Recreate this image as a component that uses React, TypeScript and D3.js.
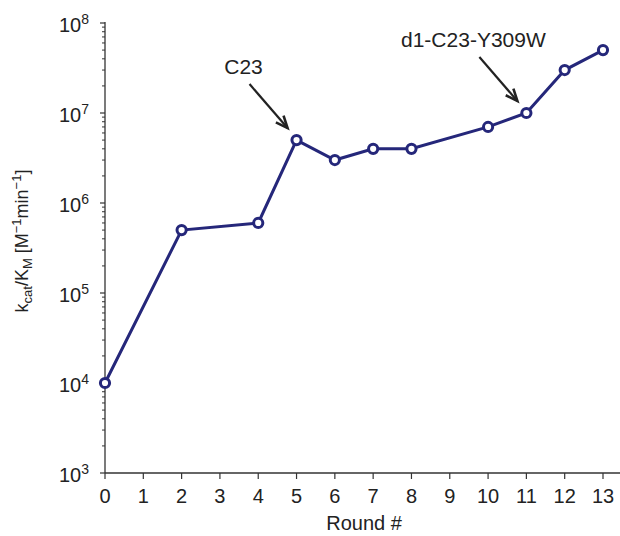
import React, { useEffect, useRef } from 'react';
import * as d3 from 'd3';

// rounds and their kcat/KM values
const rounds = [0, 2, 4, 5, 6, 7, 8, 10, 11, 12, 13];
const kcatKm = [1e4, 5e5, 6e5, 5e6, 3e6, 4e6, 4e6, 7e6, 1e7, 3e7, 5e7];
const xTicks = [0, 1, 2, 3, 4, 5, 6, 7, 8, 9, 10, 11, 12, 13];
const yExponents = [3, 4, 5, 6, 7, 8];

const annotations = [
  { label: 'C23', round: 5, value: 5e6 },
  { label: 'd1-C23-Y309W', round: 11, value: 1e7 },
];

const App = () => {
  const ref = useRef<SVGSVGElement | null>(null);

  useEffect(() => {
    const width = 620;
    const height = 536;
    const margin = { top: 23, right: 0, bottom: 63, left: 105 };
    const lineColor = '#25277a';
    const font = '"Liberation Sans", Arial, sans-serif';

    const svg = d3.select(ref.current);
    svg.selectAll('*').remove();

    const x = d3.scaleLinear().domain([0, 13]).range([margin.left, 603]);
    const y = d3.scaleLog().domain([1e3, 1e8]).range([height - margin.bottom, margin.top]);
    const x0 = margin.left;
    const yBase = height - margin.bottom;

    // axes lines
    svg.append('line')
      .attr('x1', x0).attr('x2', width)
      .attr('y1', yBase).attr('y2', yBase)
      .attr('stroke', '#333').attr('stroke-width', 1.3);
    svg.append('line')
      .attr('x1', x0).attr('x2', x0)
      .attr('y1', yBase).attr('y2', margin.top - 1)
      .attr('stroke', '#333').attr('stroke-width', 1.3);

    // x ticks
    const xt = svg.append('g');
    xTicks.forEach(t => {
      xt.append('line')
        .attr('x1', x(t)).attr('x2', x(t))
        .attr('y1', yBase).attr('y2', yBase + 6)
        .attr('stroke', '#333').attr('stroke-width', 1.2);
      xt.append('text')
        .attr('x', x(t)).attr('y', 503)
        .attr('text-anchor', 'middle')
        .attr('font-family', font).attr('font-size', 20).attr('fill', '#222')
        .text(String(t));
    });

    // y ticks, major and minor
    const yt = svg.append('g');
    yExponents.forEach((e, i) => {
      const v = Math.pow(10, e);
      yt.append('line')
        .attr('x1', x0 - 5).attr('x2', x0)
        .attr('y1', y(v)).attr('y2', y(v))
        .attr('stroke', '#333').attr('stroke-width', 1.2);
      const label = yt.append('text')
        .attr('x', x0 - 16).attr('y', y(v) + 9)
        .attr('text-anchor', 'end')
        .attr('font-family', font).attr('font-size', 20).attr('fill', '#222');
      label.append('tspan').text('10');
      label.append('tspan')
        .attr('dy', -8).attr('font-size', 14).text(String(e));
      if (i < yExponents.length - 1) {
        for (let m = 2; m <= 9; m++) {
          yt.append('line')
            .attr('x1', x0 - 3).attr('x2', x0)
            .attr('y1', y(v * m)).attr('y2', y(v * m))
            .attr('stroke', '#333').attr('stroke-width', 1);
        }
      }
    });

    // axis titles
    svg.append('text')
      .attr('x', 364).attr('y', 530)
      .attr('text-anchor', 'middle')
      .attr('font-family', font).attr('font-size', 20).attr('fill', '#222')
      .text('Round #');

    const yl = svg.append('text')
      .attr('transform', 'translate(28,241) rotate(-90)')
      .attr('text-anchor', 'middle')
      .attr('font-family', font).attr('font-size', 18).attr('fill', '#222');
    yl.append('tspan').text('k');
    yl.append('tspan').attr('dy', 4).attr('font-size', 13).text('cat');
    yl.append('tspan').attr('dy', -4).text('/K');
    yl.append('tspan').attr('dy', 4).attr('font-size', 13).text('M');
    yl.append('tspan').attr('dy', -4).text(' [M');
    yl.append('tspan').attr('dy', -7).attr('font-size', 13).text('\u22121');
    yl.append('tspan').attr('dy', 7).text('min');
    yl.append('tspan').attr('dy', -7).attr('font-size', 13).text('\u22121');
    yl.append('tspan').attr('dy', 7).text(']');

    // data line
    const pts = rounds.map((r, i) => [r, kcatKm[i]] as [number, number]);
    const line = d3.line<[number, number]>().x(d => x(d[0])).y(d => y(d[1]));
    svg.append('path')
      .datum(pts)
      .attr('d', line)
      .attr('fill', 'none')
      .attr('stroke', lineColor)
      .attr('stroke-width', 3);

    svg.selectAll('.pt')
      .data(pts)
      .enter()
      .append('circle')
      .attr('class', 'pt')
      .attr('cx', d => x(d[0]))
      .attr('cy', d => y(d[1]))
      .attr('r', 4.6)
      .attr('fill', 'white')
      .attr('stroke', lineColor)
      .attr('stroke-width', 3);

    // annotations with arrows
    annotations.forEach(a => {
      const tx = x(a.round) - 9;
      const ty = y(a.value) - 12;
      const sx = tx - 38;
      const sy = ty - 44;
      const ang = Math.atan2(ty - sy, tx - sx);
      const hl = 13;
      const spread = 0.4;
      svg.append('line')
        .attr('x1', sx).attr('y1', sy).attr('x2', tx).attr('y2', ty)
        .attr('stroke', '#222').attr('stroke-width', 2.2);
      svg.append('path')
        .attr('d', `M${tx - hl * Math.cos(ang - spread)},${ty - hl * Math.sin(ang - spread)}L${tx},${ty}L${tx - hl * Math.cos(ang + spread)},${ty - hl * Math.sin(ang + spread)}`)
        .attr('fill', 'none')
        .attr('stroke', '#222').attr('stroke-width', 2.6);
      svg.append('text')
        .attr('x', sx - 6).attr('y', sy - 10)
        .attr('text-anchor', 'middle')
        .attr('font-family', font).attr('font-size', 21).attr('fill', '#222')
        .text(a.label);
    });
  }, []);

  return (
    <svg
      ref={ref}
      width={620}
      height={536}
      style={{ position: 'absolute', left: 0, top: 0, background: 'white' }}
    />
  );
};

export default App;
